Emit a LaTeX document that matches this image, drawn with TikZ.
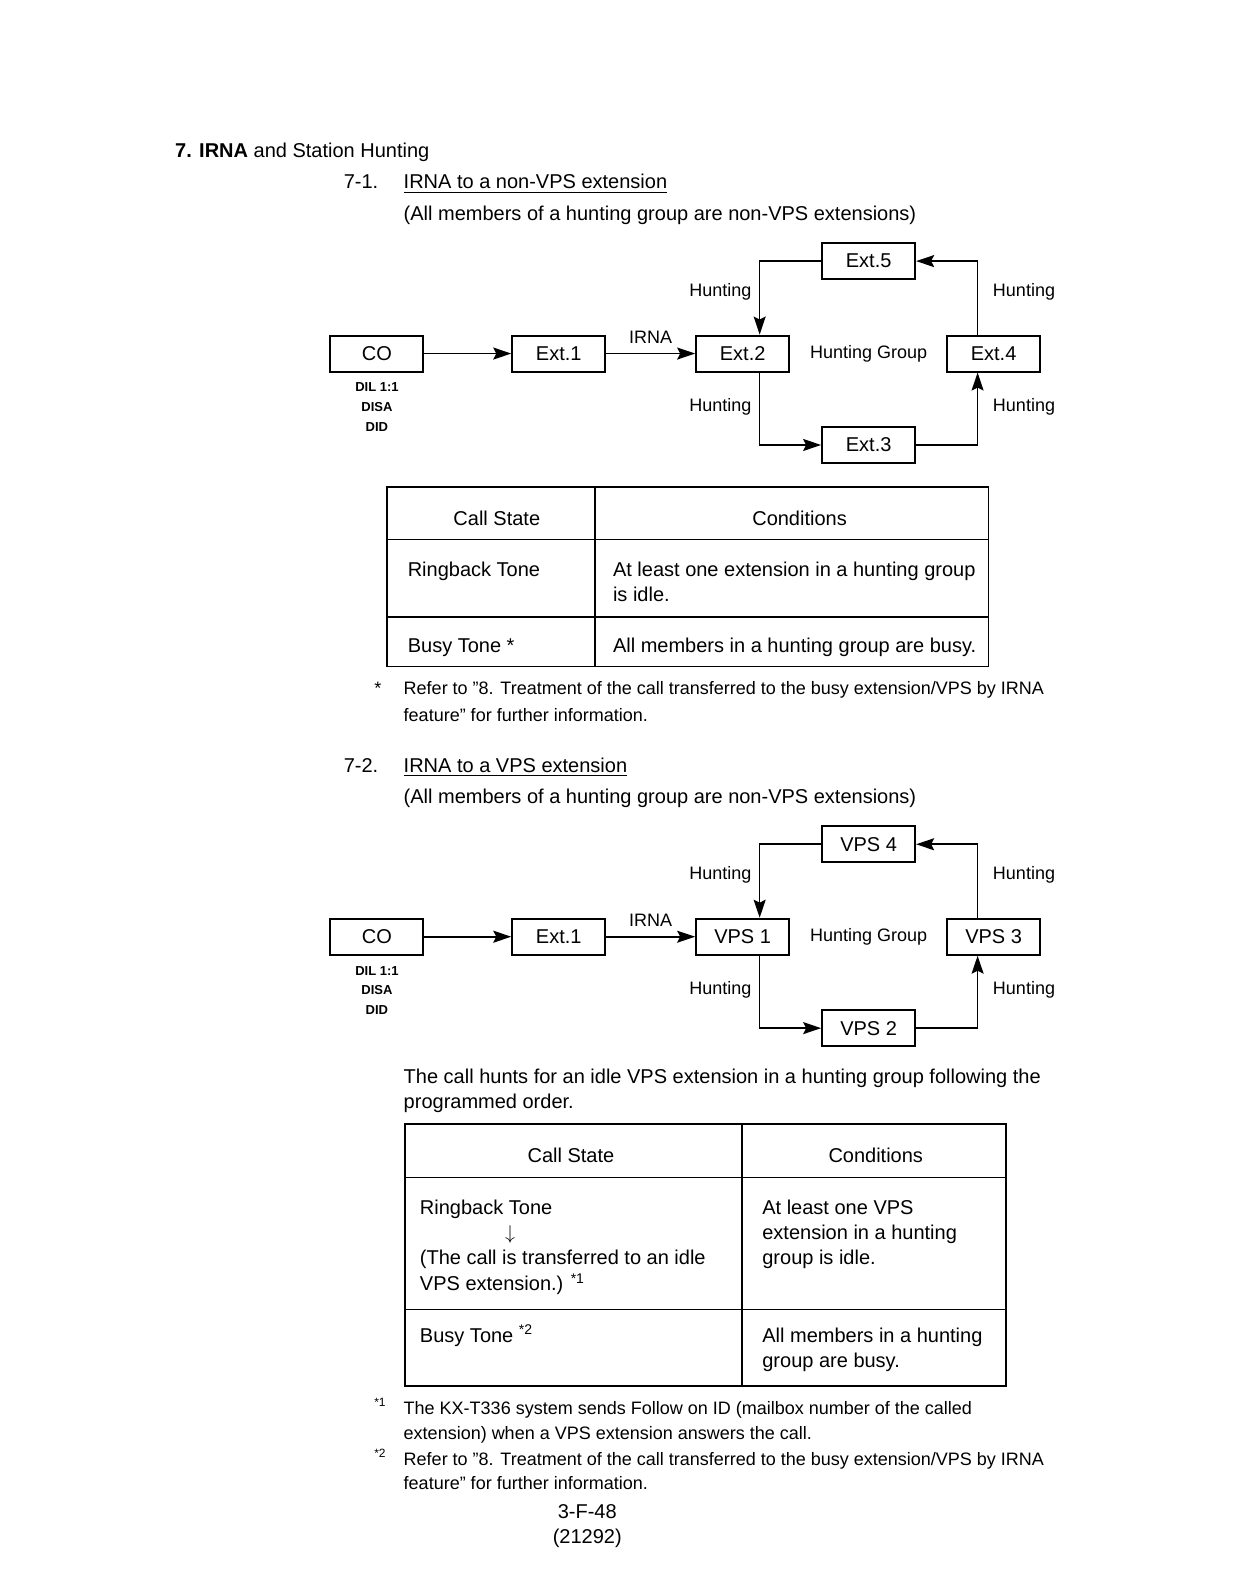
\documentclass[tikz,border=0pt]{standalone}
\usepackage{fontspec}
\setmainfont{Liberation Sans}
\usetikzlibrary{arrows.meta, positioning}

\begin{document}
\begin{tikzpicture}[
        x=0.508pt,y=-0.508pt,>={Stealth[length=9pt,width=6pt,inset=1.5pt]},
        every node/.style={font=\fontsize{10}{12}\selectfont},
        box/.style={draw, line width=1pt, minimum width=46.5pt, minimum height=18pt, inner sep=0pt},
        hunt/.style={->, line width=0.8pt},
        lbl/.style={font=\fontsize{9}{11}\selectfont, inner sep=0pt},
        txt/.style={anchor=base west, inner sep=0pt},
        note/.style={txt, font=\fontsize{9}{10}\selectfont},
        src/.style={font=\fontsize{6.5}{9.8}\selectfont\bfseries, inner sep=0pt, align=center},
        tab/.style={line width=0.9pt},
        ]
        \useasboundingbox (0,0) rectangle (1216.5,1568);

        % headings
        \node[txt] (title) at (172,155) {\textbf{7. IRNA} and Station Hunting};
        \node[txt] (num_a) at (338,186) {7-1.};
        \node[txt] (head_a) at (397,186) {\underline{IRNA to a non-VPS extension}};
        \node[txt] (sub_a) at (397,217) {(All members of a hunting group are non-VPS extensions)};

        % diagram 7-1
        \node[box] (co_a)  at (371,348) {CO};
        \node[src] (dil_a) [below=5pt of co_a] {DIL 1:1\\DISA\\DID};
        \node[box] (ext_1a) at (550,348) {Ext.1};
        \node[box] (ext_2) at (731,348) {Ext.2};
        \node[box] (ext_3) at (855,438) {Ext.3};
        \node[box] (ext_4) at (978,348) {Ext.4};
        \node[box] (ext_5) at (855,257) {Ext.5};
        \node[lbl] (grp_a) at (855,348) {Hunting Group};

        \draw[hunt] (co_a) -- (ext_1a);
        \draw[hunt] (ext_1a) -- node[lbl, above=4.5pt] {IRNA} (ext_2);
        \draw[hunt] (ext_5.west) -| ([xshift=8.5pt]ext_2.north);
        \draw[hunt] ([xshift=8.5pt]ext_2.south) |- (ext_3.west);
        \draw[hunt] (ext_3.east) -| ([xshift=-8pt]ext_4.south);
        \draw[hunt] ([xshift=-8pt]ext_4.north) |- (ext_5.east);
        \node[lbl, anchor=base east] (h_a1) at (740,292) {Hunting};
        \node[lbl, anchor=base east] (h_a2) at (740,405) {Hunting};
        \node[lbl, anchor=base west] (h_a3) at (977,405) {Hunting};
        \node[lbl, anchor=base west] (h_a4) at (977,292) {Hunting};

        % table 7-1
        \draw[tab] (381,479) rectangle (973,656);
        \draw[tab] (586,479) -- (586,656);
        \draw[tab] (381,531) -- (973,531) (381,607) -- (973,607);
        \node[anchor=base, inner sep=0pt] (ta_h1) at (489,517) {Call State};
        \node[anchor=base, inner sep=0pt] (ta_h2) at (787,517) {Conditions};
        \node[txt] (ta_r1) at (401,567) {Ringback Tone};
        \node[txt] (ta_c1) at (603,567) {At least one extension in a hunting group};
        \node[txt] (ta_c1b) at (603,592) {is idle.};
        \node[txt] (ta_r2) at (401,642) {Busy Tone *};
        \node[txt] (ta_c2) at (603,642) {All members in a hunting group are busy.};
        \node[note] (fn_a0) at (368,684) {*};
        \node[note] (fn_a1) at (397,684) {Refer to "8. Treatment of the call transferred to the busy extension/VPS by IRNA};
        \node[note] (fn_a2) at (397,710) {feature" for further information.};

        % headings 7-2
        \node[txt] (num_b) at (338,760) {7-2.};
        \node[txt] (head_b) at (397,760) {\underline{IRNA to a VPS extension}};
        \node[txt] (sub_b) at (397,791) {(All members of a hunting group are non-VPS extensions)};

        % diagram 7-2
        \node[box] (co_b)  at (371,922) {CO};
        \node[src] (dil_b) [below=5pt of co_b] {DIL 1:1\\DISA\\DID};
        \node[box] (ext_1b) at (550,922) {Ext.1};
        \node[box] (vps_1) at (731,922) {VPS 1};
        \node[box] (vps_2) at (855,1012) {VPS 2};
        \node[box] (vps_3) at (978,922) {VPS 3};
        \node[box] (vps_4) at (855,831) {VPS 4};
        \node[lbl] (grp_b) at (855,922) {Hunting Group};

        \draw[hunt] (co_b) -- (ext_1b);
        \draw[hunt] (ext_1b) -- node[lbl, above=4.5pt] {IRNA} (vps_1);
        \draw[hunt] (vps_4.west) -| ([xshift=8.5pt]vps_1.north);
        \draw[hunt] ([xshift=8.5pt]vps_1.south) |- (vps_2.west);
        \draw[hunt] (vps_2.east) -| ([xshift=-8pt]vps_3.south);
        \draw[hunt] ([xshift=-8pt]vps_3.north) |- (vps_4.east);
        \node[lbl, anchor=base east] (h_b1) at (740,866) {Hunting};
        \node[lbl, anchor=base east] (h_b2) at (740,979) {Hunting};
        \node[lbl, anchor=base west] (h_b3) at (977,979) {Hunting};
        \node[lbl, anchor=base west] (h_b4) at (977,866) {Hunting};

        \node[txt] (par_1) at (397,1066) {The call hunts for an idle VPS extension in a hunting group following the};
        \node[txt] (par_2) at (397,1091) {programmed order.};

        % table 7-2
        \draw[tab] (399,1106) rectangle (990,1364);
        \draw[tab] (730,1106) -- (730,1364);
        \draw[tab] (399,1159) -- (990,1159) (399,1289) -- (990,1289);
        \node[anchor=base, inner sep=0pt] (tb_h1) at (562,1144) {Call State};
        \node[anchor=base, inner sep=0pt] (tb_h2) at (862,1144) {Conditions};
        \node[txt] (tb_r1) at (413,1195) {Ringback Tone};
        \node[anchor=base, inner sep=0pt] (tb_ar) at (502,1220) {$\downarrow$};
        \node[txt] (tb_r1c) at (413,1245) {(The call is transferred to an idle};
        \node[txt] (tb_r1d) at (413,1270) {VPS extension.) \textsuperscript{*1}};
        \node[txt] (tb_c1) at (750,1195) {At least one VPS};
        \node[txt] (tb_c1b) at (750,1220) {extension in a hunting};
        \node[txt] (tb_c1c) at (750,1245) {group is idle.};
        \node[txt] (tb_r2) at (413,1321) {Busy Tone \textsuperscript{*2}};
        \node[txt] (tb_c2) at (750,1321) {All members in a hunting};
        \node[txt] (tb_c2b) at (750,1346) {group are busy.};

        \node[note] (fn_b0) at (368,1392) {\textsuperscript{*1}};
        \node[note] (fn_b1) at (397,1392) {The KX-T336 system sends Follow on ID (mailbox number of the called};
        \node[note] (fn_b2) at (397,1417) {extension) when a VPS extension answers the call.};
        \node[note] (fn_b3) at (368,1442) {\textsuperscript{*2}};
        \node[note] (fn_b4) at (397,1442) {Refer to "8. Treatment of the call transferred to the busy extension/VPS by IRNA};
        \node[note] (fn_b5) at (397,1466) {feature" for further information.};

        \node[anchor=base, inner sep=0pt] (page) at (578,1495) {3-F-48};
        \node[anchor=base, inner sep=0pt] (code) at (578,1519) {(21292)};
      \end{tikzpicture}
\end{document}
